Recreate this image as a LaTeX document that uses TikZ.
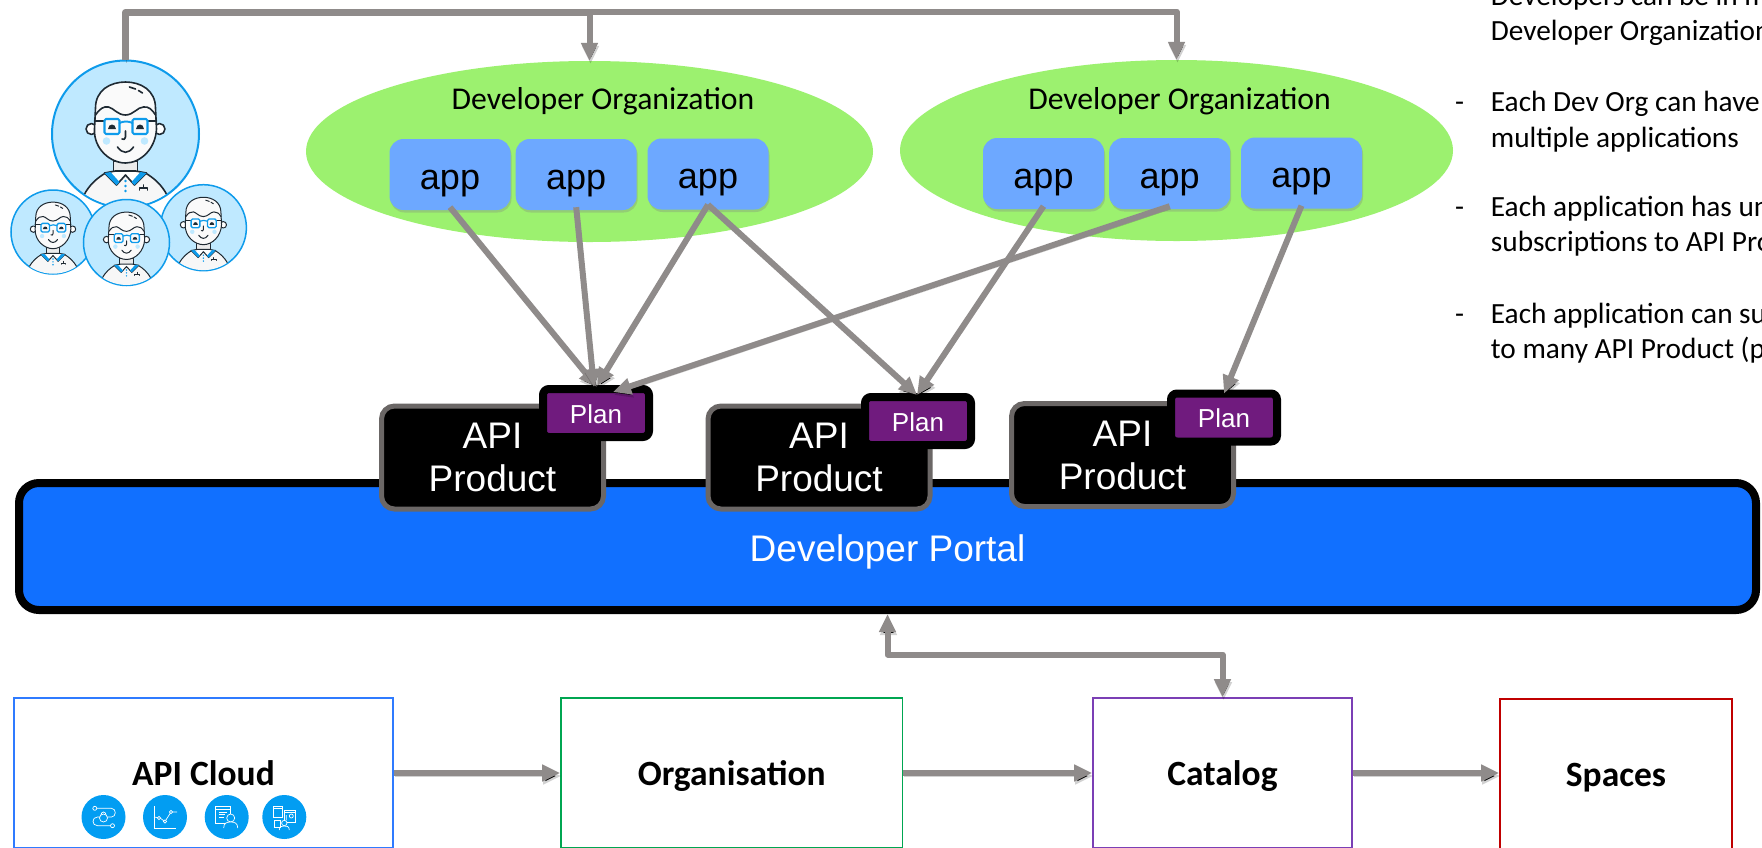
\documentclass[tikz,border=0pt]{standalone}
\usepackage{fontspec}
\setmainfont{Carlito}
\newfontfamily\arialf{Liberation Sans}
\usetikzlibrary{arrows.meta,shapes.geometric,shadows,calc}
\definecolor{conngray}{HTML}{8F8B8A}
\definecolor{orggreen}{HTML}{9CF16F}
\definecolor{appblue}{HTML}{6DA8FF}
\definecolor{portalblue}{HTML}{1170FF}
\definecolor{plumbg}{HTML}{701B7E}
\definecolor{prodedge}{HTML}{6B6766}
\definecolor{faceblue}{HTML}{BFE9FF}
\definecolor{ringblue}{HTML}{0E9BEB}
\definecolor{iconblue}{HTML}{029DF2}
\definecolor{inkdark}{HTML}{1F2A33}
\definecolor{edgecloud}{HTML}{2F7BFF}
\definecolor{edgeorg}{HTML}{00A651}
\definecolor{edgecat}{HTML}{7B3FB5}
\definecolor{edgespace}{HTML}{C00000}
\tikzset{
  softshadow/.style={drop shadow={shadow xshift=1pt,shadow yshift=-2.5pt,opacity=.3}},
  orgshape/.style={ellipse,fill=orggreen,inner sep=0pt},
  apptile/.style={rectangle,rounded corners=14pt,fill=appblue,minimum width=121pt,minimum height=71pt,inner sep=0pt,text height=29.6pt,text depth=0pt,font=\arialf\fontsize{36}{36}\selectfont,softshadow},
  prodbox/.style={rectangle,rounded corners=13pt,fill=black,draw=prodedge,line width=5pt,minimum width=222pt,minimum height=103pt,inner sep=0pt,text=white,align=center,font=\arialf\fontsize{37}{43}\selectfont},
  plantag/.style={rectangle,rounded corners=6pt,fill=plumbg,draw=black,line width=8pt,minimum width=106pt,minimum height=48pt,inner sep=0pt,text=white,text height=20.6pt,text depth=0pt,font=\arialf\fontsize{26}{26}\selectfont,softshadow},
  envbox/.style={rectangle,fill=white,line width=1.7pt,inner sep=0pt,text height=24pt,text depth=0pt,font=\bfseries\fontsize{35.5}{36}\selectfont},
  conn/.style={draw=conngray,line width=6pt,preaction={draw=black,draw opacity=.18,transform canvas={shift={(1pt,-3pt)}}}},
  tipped/.style={-{Triangle[length=18pt,width=16pt]}},
  twotipped/.style={{Triangle[length=18pt,width=16pt]}-{Triangle[length=18pt,width=16pt]}},
  orgtext/.style={font=\fontsize{31.7}{35}\selectfont,anchor=base,inner sep=0pt},
  notetext/.style={font=\fontsize{29.3}{35}\selectfont,anchor=base west,inner sep=0pt},
  facering/.style={circle,fill=faceblue,draw=ringblue,inner sep=0pt},
  iconcirc/.style={circle,fill=iconblue,minimum size=44pt,inner sep=0pt},
  iconline/.style={draw=white,line width=.7pt,fill=none}
}
\newcommand{\facefig}[4]{%
\begin{scope}[shift={(#1,#2)},scale=#3]
\clip (0,0) circle (72.5);
\begin{scope}[line width=#4pt,draw=inkdark,line join=round,line cap=round]
\fill[white!97!black,draw=inkdark] (-42,62) .. controls (-36,50) and (-28,44) .. (-20,39) -- (20,39) .. controls (28,44) and (36,50) .. (42,62) -- (46,90) -- (-46,90) -- cycle;
\fill[black!8,draw=inkdark] (-12,27) -- (-12,40) -- (12,40) -- (12,27) -- cycle;
\fill[white,draw=inkdark] (-21,39) -- (-9,51) -- (0,41) -- (9,51) -- (21,39) -- (10,37) -- (-10,37) -- cycle;
\fill[ringblue] (-21,39) -- (-9,51) -- (-6,48) -- (-15,38) -- cycle;
\fill[ringblue] (21,39) -- (9,51) -- (6,48) -- (15,38) -- cycle;
\fill[ringblue] (0,47) circle (1.4) (0,52) circle (1.4) (0,57) circle (1.4);
\draw (14,56) -- (14,54) -- (22,54) -- (22,56) (18,54) -- (18,51);
\fill[white,draw=inkdark] (-34,-5) circle (5.5) (34,-5) circle (5.5);
\fill[white!98!black,draw=inkdark] (-30,-26) .. controls (-30,-44) and (-15,-52) .. (0,-52) .. controls (15,-52) and (30,-44) .. (30,-26) -- (31,-5) .. controls (30,15) and (15,29) .. (0,29) .. controls (-15,29) and (-32,15) .. (-31,-5) -- cycle;
\draw (-30,-19) .. controls (-26,-25) and (-22,-28) .. (-17,-27) .. controls (-12,-26) and (-8,-19) .. (0,-19) .. controls (8,-19) and (12,-27) .. (18,-27) .. controls (23,-28) and (27,-24) .. (30,-19);
\draw (4,-47) -- (10,-45) (13,-43.5) -- (17,-41);
\fill[faceblue] (-19,7) circle (3.8) (19,7) circle (3.8);
\draw (-31,-13) -- (-21,-13) (22,-13) -- (31,-13);
\draw[ringblue,line width=1.3*#4pt,fill=none,rounded corners=1.5pt] (-21,-15) rectangle (-6,0) (7,-15) rectangle (22,0);
\draw[ringblue,line width=1.2*#4pt] (-6,-11) .. controls (-2,-13) and (3,-13) .. (7,-11);
\fill[inkdark] (-17.5,-5) .. controls (-17,-11) and (-10,-11) .. (-9.5,-5) -- cycle;
\fill[inkdark] (10.5,-5) .. controls (11,-11) and (18,-11) .. (18.5,-5) -- cycle;
\draw (0,-3) -- (0,3) .. controls (0,5.5) and (-2,6) .. (-3.5,5);
\draw (-8,13) .. controls (-3,20) and (3,20) .. (8,13);
\end{scope}
\end{scope}}
\begin{document}
\begin{tikzpicture}[x=1pt,y=-1pt]
\useasboundingbox[fill=white] (0,0) rectangle (1762,847);
% developers
\node[facering,line width=2pt,minimum size=147pt] (devmain) at (125.5,134) {};
\facefig{125.5}{134}{1}{1.6}
\node[facering,line width=1.5pt,minimum size=84pt] (devleft) at (53,232) {};
\facefig{53}{232}{.575}{1}
\node[facering,line width=1.5pt,minimum size=86pt] (devright) at (203.4,227.7) {};
\facefig{203.4}{227.7}{.585}{1}
\node[facering,line width=1.5pt,minimum size=86pt] (devmid) at (126.5,242.5) {};
\facefig{126.5}{242.5}{.585}{1}
% organizations
\node[orgshape,minimum width=567pt,minimum height=181pt] (orgone) at (589.5,151.5) {};
\node[orgshape,minimum width=553pt,minimum height=181pt] (orgtwo) at (1176.5,150.5) {};
\node[orgtext] (orgonelabel) at (603,109) {Developer Organization};
\node[orgtext] (orgtwolabel) at (1179.5,109) {Developer Organization};
\node[apptile] (appa) at (450,174.5) {app};
\node[apptile] (appb) at (576.2,174.5) {app};
\node[apptile] (appc) at (708,174) {app};
\node[apptile] (appd) at (1043.5,173.5) {app};
\node[apptile] (appe) at (1169.7,173.5) {app};
\node[apptile] (appf) at (1301.5,173) {app};
% portal
\node[rectangle,rounded corners=20pt,fill=portalblue,draw=black,line width=8pt,minimum width=1737pt,minimum height=127pt,inner sep=0pt,text=white,text height=29pt,text depth=0pt,font=\arialf\fontsize{37}{37}\selectfont,softshadow] (portal) at (887.5,546.5) {Developer Portal};
% products
\node[prodbox] (proda) at (492.5,457.5) {API\\Product};
\node[prodbox] (prodb) at (819,457.5) {API\\Product};
\node[prodbox] (prodc) at (1122.5,455) {API\\Product};
\node[plantag] (plana) at (596,413) {Plan};
\node[plantag] (planb) at (918,421) {Plan};
\node[plantag] (planc) at (1224,417.5) {Plan};
% bottom row
\node[envbox,draw=edgecloud,minimum width=379pt,minimum height=150pt] (cloud) at (203.5,773) {API Cloud};
\node[envbox,draw=edgeorg,minimum width=341.5pt,minimum height=150pt] (orgn) at (731.75,773) {Organisation};
\node[envbox,draw=edgecat,minimum width=259pt,minimum height=150pt] (catalog) at (1222.5,773) {Catalog};
\node[envbox,draw=edgespace,minimum width=232pt,minimum height=152pt,text height=22pt] (spaces) at (1616,775) {Spaces};
% icons
\node[iconcirc] (icona) at (103.5,817) {};
\node[iconcirc] (iconb) at (165,817) {};
\node[iconcirc] (iconc) at (226.7,817) {};
\node[iconcirc] (icond) at (284.3,817) {};
\begin{scope}[shift={(103.5,817)}]
\draw[iconline] (-8.7,-8.7) circle (2) (9,8.7) circle (2);
\draw[iconline] (-6.7,-8.7) -- (8,-8.7) .. controls (13,-8.7) and (13,0) .. (8,0) -- (-6,0) .. controls (-12,0) and (-12,8.7) .. (-6,8.7) -- (7,8.7);
\draw[iconline,fill=iconblue] (0,1) circle (4);
\draw[iconline] (-2.5,-2) .. controls (-2.5,-6) and (2.5,-6) .. (2.5,-2);
\end{scope}
\begin{scope}[shift={(165,817)}]
\draw[iconline] (-11,-11) -- (-11,11) -- (11,11);
\draw[iconline] (-11,0) -- (-5,1) -- (0,4.5) -- (6,-5) -- (12,-5);
\draw[iconline,fill=iconblue] (-6,1) circle (1.7) (0,4.5) circle (1.7) (6,-5) circle (1.7);
\end{scope}
\begin{scope}[shift={(226.7,817)}]
\draw[iconline] (-11,-11) rectangle (4,6);
\draw[iconline] (-11,-8) -- (4,-8) (-8,-5) -- (0,-5) (-8,-2.5) -- (-2,-2.5) (-8,0) -- (-3,0);
\draw[iconline,fill=iconblue] (4,1) circle (4);
\draw[iconline,fill=iconblue] (-3,11) .. controls (-3,6) and (0,5) .. (4,5) .. controls (8,5) and (11,6) .. (11,11);
\end{scope}
\begin{scope}[shift={(284.3,817)}]
\draw[iconline] (-11,-11) rectangle (-2,0) (-11,-8.5) -- (-2,-8.5);
\draw[iconline] (0,-7) rectangle (11,5) (0,-4.5) -- (11,-4.5);
\draw[iconline] (2,-2) -- (2,3) (7,-1) circle (2);
\draw[iconline] (-10,3) rectangle (-4,10);
\draw[iconline,fill=iconblue] (0,6) circle (2.7);
\draw[iconline] (-5,13) .. controls (-5,9) and (-2,9) .. (0,9) .. controls (2,9) and (5,9) .. (5,13);
\end{scope}
% connectors
\coordinate (topleft) at (devmain.north |- 0,12.5);
\coordinate (topone) at (orgone.north |- 0,12.5);
\coordinate (toptwo) at (orgtwo.north |- 0,11.5);
\draw[conn,line width=7.5pt,line join=round] (devmain.north) -- (topleft) -- (topone);
\draw[conn,tipped] (topone) -- (orgone.north);
\draw[conn,line join=round,tipped] (topone |- toptwo) -- (toptwo) -- (orgtwo.north);
\draw[conn,tipped] ([yshift=3pt]appa.south) -- ([xshift=1pt,yshift=-2pt]plana.north);
\draw[conn,tipped] ([yshift=3pt]appb.south) -- ([xshift=-2pt,yshift=-2pt]plana.north);
\draw[conn,tipped] ([yshift=5pt]appc.south) -- ([xshift=1pt,yshift=-1pt]plana.north);
\draw[conn,tipped] ([yshift=3pt]appe.south) -- ([xshift=17pt,yshift=-7pt]plana.north);
\draw[conn,tipped] ([yshift=5pt]appc.south) -- ([xshift=-1pt,yshift=-2pt]planb.north);
\draw[conn,tipped] ([yshift=3pt]appd.south) -- ([xshift=-1pt,yshift=-2pt]planb.north);
\draw[conn,tipped] ([yshift=3pt]appf.south) -- ([yshift=-4pt]planc.north);
\draw[conn,line width=6.5pt,tipped] (cloud.east) -- (orgn.west);
\draw[conn,line width=6.5pt,tipped] (orgn.east) -- (catalog.west);
\draw[conn,line width=6.5pt,tipped] (catalog.east) -- (spaces.west |- catalog.east);
\coordinate (linkleft) at (portal.south |- 0,654.5);
\coordinate (linkright) at (catalog.north |- 0,654.5);
\draw[conn,line join=round,twotipped] (portal.south) -- (linkleft) -- (linkright) -- (catalog.north);
% notes
\node[notetext] (noteaa) at (1490.7,5) {Developers can be in m};
\node[notetext] (noteab) at (1490.7,40) {Developer Organization};
\node[notetext] (noteba) at (1490.7,111.5) {Each Dev Org can have};
\node[notetext] (notebb) at (1490.7,147) {multiple applications};
\node[notetext] (noteca) at (1490.7,216) {Each application has un};
\node[notetext] (notecb) at (1490.7,251.5) {subscriptions to API Pro};
\node[notetext] (noteda) at (1490.7,323) {Each application can su};
\node[notetext] (notedb) at (1490.7,358.5) {to many API Product (p};
\node[notetext] (dasha) at (1455,111.5) {-};
\node[notetext] (dashb) at (1455,216) {-};
\node[notetext] (dashc) at (1455,323) {-};
\end{tikzpicture}
\end{document}
